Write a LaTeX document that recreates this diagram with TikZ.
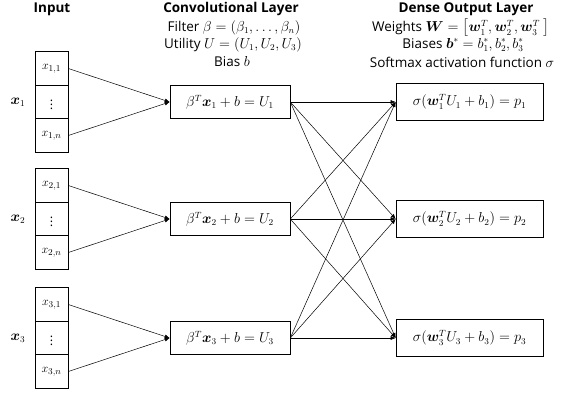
\documentclass[tikz,border=0pt]{standalone}
\usepackage{amsmath}
\usepackage{fontspec}
\setmainfont{Open Sans}
\usepackage{bm}
\usetikzlibrary{arrows.meta}
\tikzset{
  cell/.style={draw, line width=0.6pt, minimum width=33pt, minimum height=33.5pt, inner sep=0pt, font=\fontsize{12.5}{14}\selectfont},
  conv/.style={draw, line width=0.6pt, minimum width=120pt, minimum height=33pt, inner sep=0pt, font=\fontsize{13.5}{15}\selectfont},
  outbox/.style={draw, line width=0.6pt, minimum width=147pt, minimum height=37pt, inner sep=0pt, font=\fontsize{13.5}{15}\selectfont},
  conn/.style={line width=0.5pt, -{Latex[length=5pt,width=4pt]}},
  ttl/.style={font=\bfseries\fontsize{13.5}{15}\selectfont, inner sep=0pt},
  txt/.style={font=\fontsize{13.5}{15}\selectfont, inner sep=0pt, align=center},
}
\begin{document}
\begin{tikzpicture}[x=1pt,y=-1pt]
\useasboundingbox (0,0) rectangle (566,394);
% titles
\node[ttl] (tin) at (52,9) {Input};
\node[ttl] (tconv) at (231,9) {Convolutional Layer};
\node[txt] (tf) at (234,28) {Filter $\beta=(\beta_1,\dots,\beta_n)$};
\node[txt] (tu) at (233,45) {Utility $U=(U_1,U_2,U_3)$};
\node[txt] (tb) at (232,62) {Bias $b$};
\node[ttl] (tdense) at (466,9) {Dense Output Layer};
\node[txt] (tw) at (461,28) {Weights $\bm{W}=\bigl[\bm{w}_1^T,\bm{w}_2^T,\bm{w}_3^T\;\bigr]$};
\node[txt] (tbs) at (463,45) {Biases $\bm{b}^{*}=b_1^{*},b_2^{*},b_3^{*}$};
\node[txt] (tsm) at (462,62) {Softmax activation function $\sigma$};
% input groups
\foreach \i/\yc in {1/102, 2/219, 3/338} {
  \node[cell] (a\i1) at (51.5,\yc-33.5) {$x_{\i,1}$};
  \node[cell] (a\i d) at (51.5,\yc) {$\vdots$};
  \node[cell] (a\i n) at (51.5,\yc+33.5) {$x_{\i,n}$};
  \node[font=\fontsize{13.5}{15}\selectfont] (lx\i) at (18,\yc) {$\bm{x}_{\i}$};
  \node[conv] (c\i) at (230,\yc) {$\beta^T\bm{x}_{\i}+b=U_{\i}$};
  \node[outbox] (o\i) at (469.5,\yc) {$\sigma(\bm{w}_{\i}^TU_{\i}+b_{\i})=p_{\i}$};
  \draw[conn] (a\i1.east) -- (c\i.west);
  \draw[conn] (a\i n.east) -- (c\i.west);
}
\foreach \i in {1,2,3} {
  \foreach \j in {1,2,3} {
    \draw[conn] (c\i.east) -- (o\j.west);
  }
}
\end{tikzpicture}
\end{document}
